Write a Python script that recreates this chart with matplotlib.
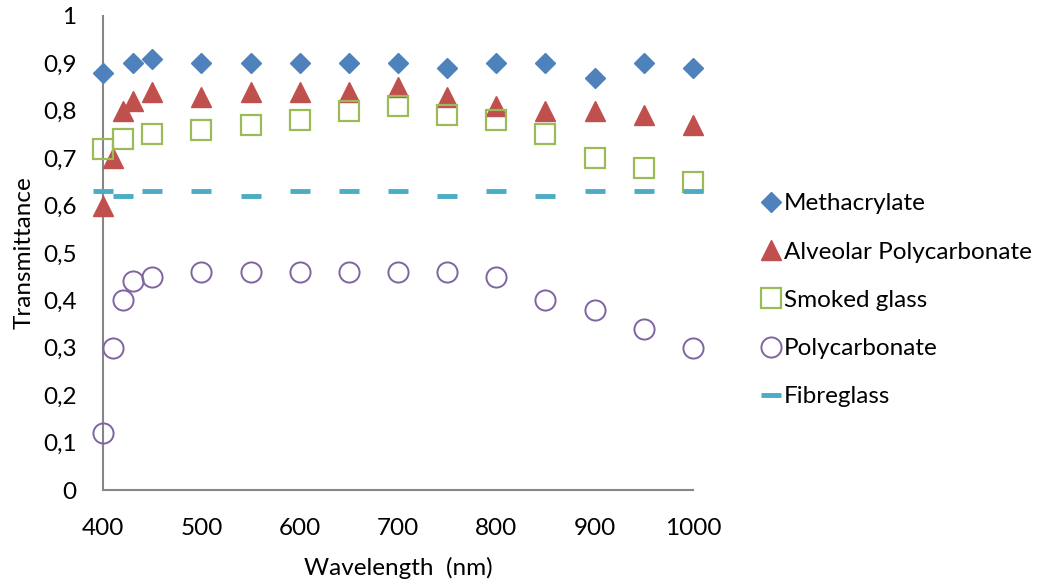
import matplotlib
matplotlib.use("Agg")
import matplotlib.pyplot as plt
from matplotlib.ticker import FuncFormatter, MultipleLocator

plt.rcParams['font.family'] = ['Lato', 'DejaVu Sans']

meth_x = [400, 430, 450, 500, 550, 600, 650, 700, 750, 800, 850, 900, 950, 1000]
meth_y = [0.88, 0.90, 0.91, 0.90, 0.90, 0.90, 0.90, 0.90, 0.89, 0.90, 0.90, 0.87, 0.90, 0.89]

alv_x = [400, 410, 420, 430, 450, 500, 550, 600, 650, 700, 750, 800, 850, 900, 950, 1000]
alv_y = [0.60, 0.70, 0.80, 0.82, 0.84, 0.83, 0.84, 0.84, 0.84, 0.85, 0.83, 0.81, 0.80, 0.80, 0.79, 0.77]

smk_x = [400, 420, 450, 500, 550, 600, 650, 700, 750, 800, 850, 900, 950, 1000]
smk_y = [0.72, 0.74, 0.75, 0.76, 0.77, 0.78, 0.80, 0.81, 0.79, 0.78, 0.75, 0.70, 0.68, 0.65]

pc_x = [400, 410, 420, 430, 450, 500, 550, 600, 650, 700, 750, 800, 850, 900, 950, 1000]
pc_y = [0.12, 0.30, 0.40, 0.44, 0.45, 0.46, 0.46, 0.46, 0.46, 0.46, 0.46, 0.45, 0.40, 0.38, 0.34, 0.30]

fib_x = [400, 420, 450, 500, 550, 600, 650, 700, 750, 800, 850, 900, 950, 1000]
fib_y = [0.63, 0.62, 0.63, 0.63, 0.62, 0.63, 0.63, 0.63, 0.62, 0.63, 0.62, 0.63, 0.63, 0.63]

FS = 17.5

fig = plt.figure(figsize=(10.46, 5.81), dpi=100)
ax = fig.add_axes([0.0985, 0.1566, 0.564, 0.816])

ax.plot(meth_x, meth_y, linestyle='none', marker='D', markersize=10.3, color='#4F81BD',
        markeredgecolor='#4F81BD', label='Methacrylate', clip_on=False, zorder=3)
ax.plot(alv_x, alv_y, linestyle='none', marker='^', markersize=15, color='#C0504D',
        markeredgecolor='#C0504D', label='Alveolar Polycarbonate', clip_on=False, zorder=3)
ax.plot(smk_x, smk_y, linestyle='none', marker='s', markersize=14, markerfacecolor='none',
        markeredgecolor='#9BBB59', markeredgewidth=1.6, label='Smoked glass', clip_on=False, zorder=3)
ax.plot(pc_x, pc_y, linestyle='none', marker='o', markersize=14.5, markerfacecolor='none',
        markeredgecolor='#8064A2', markeredgewidth=1.4, label='Polycarbonate', clip_on=False, zorder=3)
ax.plot(fib_x, fib_y, linestyle='none', marker='_', markersize=15, color='#4BACC6',
        markeredgewidth=3.5, label='Fibreglass', clip_on=False, zorder=3)

ax.set_xlim(400, 1000)
ax.set_ylim(0, 1)
ax.xaxis.set_major_locator(MultipleLocator(100))
ax.yaxis.set_major_locator(MultipleLocator(0.1))

def yfmt(v, pos):
    s = f"{v:.1f}"
    if s == "0.0":
        return "0"
    if s == "1.0":
        return "1"
    return s.replace('.', ',')

ax.yaxis.set_major_formatter(FuncFormatter(yfmt))
ax.tick_params(axis='both', length=0, labelsize=FS)
ax.tick_params(axis='y', pad=19)
ax.tick_params(axis='x', pad=20)

for s in ['top', 'right']:
    ax.spines[s].set_visible(False)
for s in ['left', 'bottom']:
    ax.spines[s].set_color('#868686')
    ax.spines[s].set_linewidth(1.5)

ax.set_xlabel('Wavelength  (nm)', fontsize=FS, labelpad=13)
ax.set_ylabel('Transmittance', fontsize=FS, labelpad=6)

leg = ax.legend(loc='center left', bbox_to_anchor=(1.111, 0.40), frameon=False,
                fontsize=FS, handletextpad=0.05, labelspacing=1.12,
                handlelength=1.0, borderaxespad=0, borderpad=0)

fig.savefig('out.png', dpi=100)
